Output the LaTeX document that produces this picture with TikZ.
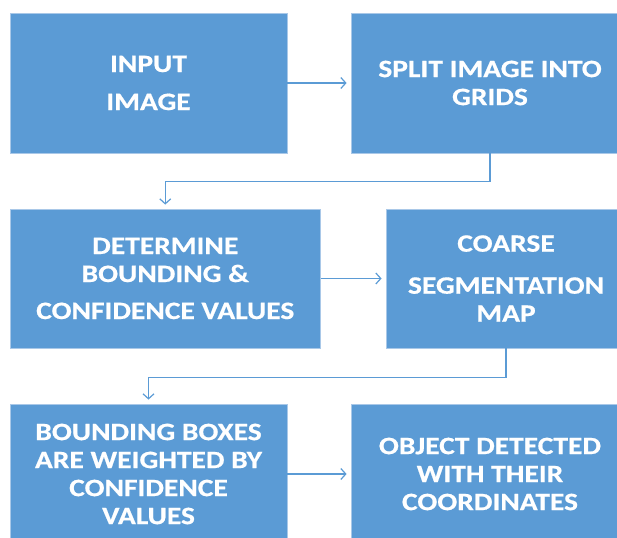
\documentclass[tikz,border=0pt]{standalone}
\usepackage{fontspec}
\setmainfont{Carlito}[FakeStretch=1.18, BoldFeatures={FakeBold=0.6}]
\usetikzlibrary{arrows.meta}
\definecolor{boxblue}{HTML}{5B9BD5}
\definecolor{boxedge}{HTML}{A9C8E8}
\begin{document}
\begin{tikzpicture}[x=1pt,y=-1pt,
  stage/.style={draw=boxedge, line width=0.8pt, fill=boxblue, text=white,
    font=\bfseries\fontsize{25}{28}\selectfont, align=center, inner sep=0pt},
  flow/.style={draw=boxblue, line width=1.2pt,
    -{Straight Barb[length=5pt,width=11pt]}, shorten >=4pt}]
\useasboundingbox (0,0) rectangle (617,537);

% process stages
\node[stage, minimum width=277pt, minimum height=140pt] (input) at (148.5,83)
  {INPUT\\[10pt]IMAGE};
\node[stage, minimum width=278pt, minimum height=140pt] (split) at (490,83)
  {SPLIT IMAGE INTO\\GRIDS};
\node[stage, minimum width=310.5pt, minimum height=139pt] (det) at (165.25,278.5)
  {DETERMINE\\BOUNDING \&\\[9pt]CONFIDENCE VALUES};
\node[stage, minimum width=240pt, minimum height=139pt] (coarse) at (506,278.5)
  {COARSE\\[14pt]SEGMENTATION\\MAP};
\node[stage, minimum width=277pt, minimum height=140pt] (weight) at (148.5,474)
  {BOUNDING BOXES\\ARE WEIGHTED BY\\CONFIDENCE\\VALUES};
\node[stage, minimum width=278pt, minimum height=140pt] (detect) at (490,474)
  {OBJECT DETECTED\\WITH THEIR\\COORDINATES};

% connectors
\draw[flow] (input) -- (split);
\draw[flow] (split.south) -- ++(0,28) -| (det.north);
\draw[flow] (det) -- (coarse);
\draw[flow] (coarse.south) -- ++(0,29) -| (weight.north);
\draw[flow] (weight) -- (detect);
\end{tikzpicture}
\end{document}
